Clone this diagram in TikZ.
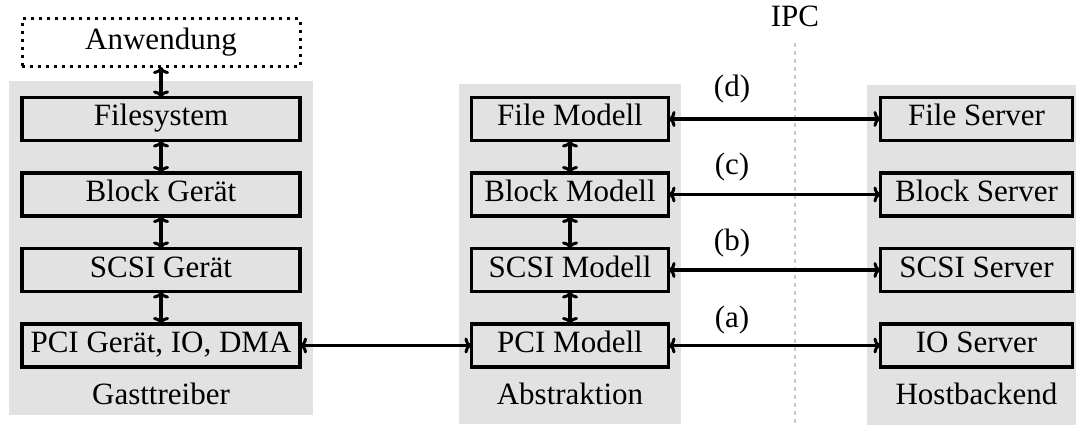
\documentclass[tikz,border=0pt]{standalone}
\usepackage{fontspec}
\setmainfont{Liberation Serif}
\usetikzlibrary{arrows.meta}
\definecolor{bgc}{RGB}{226,226,226}
\definecolor{ipcc}{RGB}{200,200,200}
\begin{document}
\begin{tikzpicture}[x=1pt,y=-1pt,
  font=\fontsize{31}{36}\selectfont,
  every node/.style={inner sep=0pt, outer sep=0pt},
  layerbox/.style={draw, line width=3.2pt, fill=bgc, minimum width=#1,
    minimum height=43pt, text height=20pt, text depth=6pt, anchor=center},
  appbox/.style={draw, line width=3pt, dash pattern=on 3pt off 5pt,
    fill=white, minimum width=278pt, minimum height=48pt,
    text height=20pt, text depth=6pt},
  tipa/.tip={Computer Modern Rightarrow[length=7pt,width=16pt,line width=3pt]},
  arr/.style={tipa-tipa, line width=3.2pt},
  panel/.style={fill=bgc},
  caption/.style={text height=20pt, text depth=6pt},
  ipcline/.style={draw=ipcc, line width=1.2pt, dash pattern=on 4pt off 4pt}]
\useasboundingbox (0,0) rectangle (1076,425);
% panels
\fill[panel] (9,81) rectangle (313,415);
\fill[panel] (459,84) rectangle (681,424);
\fill[panel] (867,85) rectangle (1076,425);
% IPC
\node[caption] (ipc) at (795,20) {IPC};
\coordinate (ipctop) at (795,43);
\coordinate (ipcend) at (795,425);
\draw[ipcline] (ipctop) -- (ipcend);
% left column
\node[appbox] (app) at (161,43) {Anwendung};
\node[layerbox=278pt] (fsys) at (161,119) {Filesystem};
\node[layerbox=278pt] (bgeraet) at (161,194.5) {Block Gerät};
\node[layerbox=278pt] (sgeraet) at (161,270) {SCSI Gerät};
\node[layerbox=278pt] (pgeraet) at (161,345.5) {PCI Gerät, IO, DMA};
\node[caption] (gast) at (161,397) {Gasttreiber};
% middle column
\node[layerbox=197pt] (fmod) at (570,119) {File Modell};
\node[layerbox=197pt] (bmod) at (570,194.5) {Block Modell};
\node[layerbox=197pt] (smod) at (570,270) {SCSI Modell};
\node[layerbox=197pt] (pmod) at (570,345.5) {PCI Modell};
\node[caption] (abs) at (570,397) {Abstraktion};
% right column
\node[layerbox=192pt] (fsrv) at (976.5,119) {File Server};
\node[layerbox=192pt] (bsrv) at (976.5,194.5) {Block Server};
\node[layerbox=192pt] (ssrv) at (976.5,270) {SCSI Server};
\node[layerbox=192pt] (isrv) at (976.5,345.5) {IO Server};
\node[caption] (host) at (976.5,397) {Hostbackend};
% vertical arrows
\draw[arr] (app.south) -- (fsys.north);
\draw[arr] (fsys.south) -- (bgeraet.north);
\draw[arr] (bgeraet.south) -- (sgeraet.north);
\draw[arr] (sgeraet.south) -- (pgeraet.north);
\draw[arr] (fmod.south) -- (bmod.north);
\draw[arr] (bmod.south) -- (smod.north);
\draw[arr] (smod.south) -- (pmod.north);
% horizontal arrows
\draw[arr] (pgeraet.east) -- (pmod.west);
\draw[arr] (fmod.east) -- (fsrv.west);
\draw[arr] (bmod.east) -- (bsrv.west);
\draw[arr] (smod.east) -- (ssrv.west);
\draw[arr] (pmod.east) -- (isrv.west);
% labels
\node[caption] (ld) at (732,90) {(d)};
\node[caption] (lc) at (732,167) {(c)};
\node[caption] (lb) at (732,243) {(b)};
\node[caption] (la) at (732,320) {(a)};
\end{tikzpicture}
\end{document}
